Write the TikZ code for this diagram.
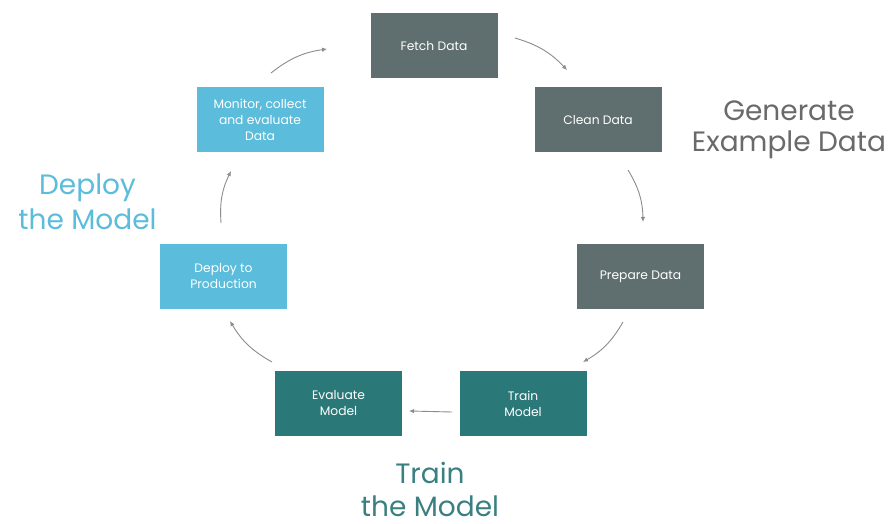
\documentclass[tikz,border=0pt]{standalone}
\usepackage{fontspec}
\setmainfont{Poppins}
\usetikzlibrary{arrows.meta}
\definecolor{boxgray}{HTML}{5F6E6E}
\definecolor{boxteal}{HTML}{2B7879}
\definecolor{boxblue}{HTML}{5BBCDB}
\definecolor{lblgray}{HTML}{6A6A6A}
\definecolor{lblblue}{HTML}{5BBCDB}
\definecolor{lblteal}{HTML}{3A8081}
\definecolor{arr}{HTML}{8C8C8C}
\begin{document}
\begin{tikzpicture}[x=1pt,y=1pt,
  stagebox/.style={minimum width=127pt,minimum height=65pt,inner sep=0pt,text=white,align=center,font=\fontsize{12.3}{16}\selectfont},
  gbox/.style={stagebox,fill=boxgray},
  tbox/.style={stagebox,fill=boxteal},
  bbox/.style={stagebox,fill=boxblue},
  flow/.style={draw=arr,line width=0.9pt,-{Latex[length=5pt,width=4.5pt]},bend left=15},
  phase/.style={align=center,inner sep=1pt}]
\useasboundingbox (0,0) rectangle (893,524);
\fill[white] (0,0) rectangle (893,524);

\node[gbox] (fetch) at (434,478) {Fetch Data};
\node[gbox] (clean) at (598,404) {Clean Data};
\node[gbox] (prepare) at (640.5,247.5) {Prepare Data};
\node[tbox] (train) at (523,120.5) {Train\\Model};
\node[tbox] (evaluate) at (338.5,120.5) {Evaluate\\Model};
\node[bbox] (deploy) at (223.5,247.5) {Deploy to\\Production};
\node[bbox] (monitor) at (260,404.5) {Monitor, collect\\and evaluate\\Data};

\node[phase,text=lblgray,font=\fontsize{28}{31}\selectfont] (gen) at (789,394) {Generate\\Example Data};
\node[phase,text=lblblue,font=\fontsize{28}{35}\selectfont] (dep) at (87.5,322) {Deploy\\the Model};
\node[phase,text=lblteal,font=\fontsize{28}{33}\selectfont] (trn) at (430,35) {Train\\the Model};

\coordinate (a1s) at (271,451); \coordinate (a1e) at (327,475);
\coordinate (a2s) at (515,486); \coordinate (a2e) at (567,454);
\coordinate (a3s) at (628,354); \coordinate (a3e) at (643,302);
\coordinate (a4s) at (623,202); \coordinate (a4e) at (583,162);
\coordinate (a5s) at (452,112); \coordinate (a5e) at (409,113);
\coordinate (a6s) at (272,162); \coordinate (a6e) at (230,203);
\coordinate (a7s) at (221,301); \coordinate (a7e) at (231,353);

\draw[flow] (a1s) to (a1e);
\draw[flow] (a2s) to (a2e);
\draw[flow] (a3s) to (a3e);
\draw[flow] (a4s) to (a4e);
\draw[flow,bend left=0] (a5s) to (a5e);
\draw[flow] (a6s) to (a6e);
\draw[flow] (a7s) to (a7e);
\end{tikzpicture}
\end{document}
